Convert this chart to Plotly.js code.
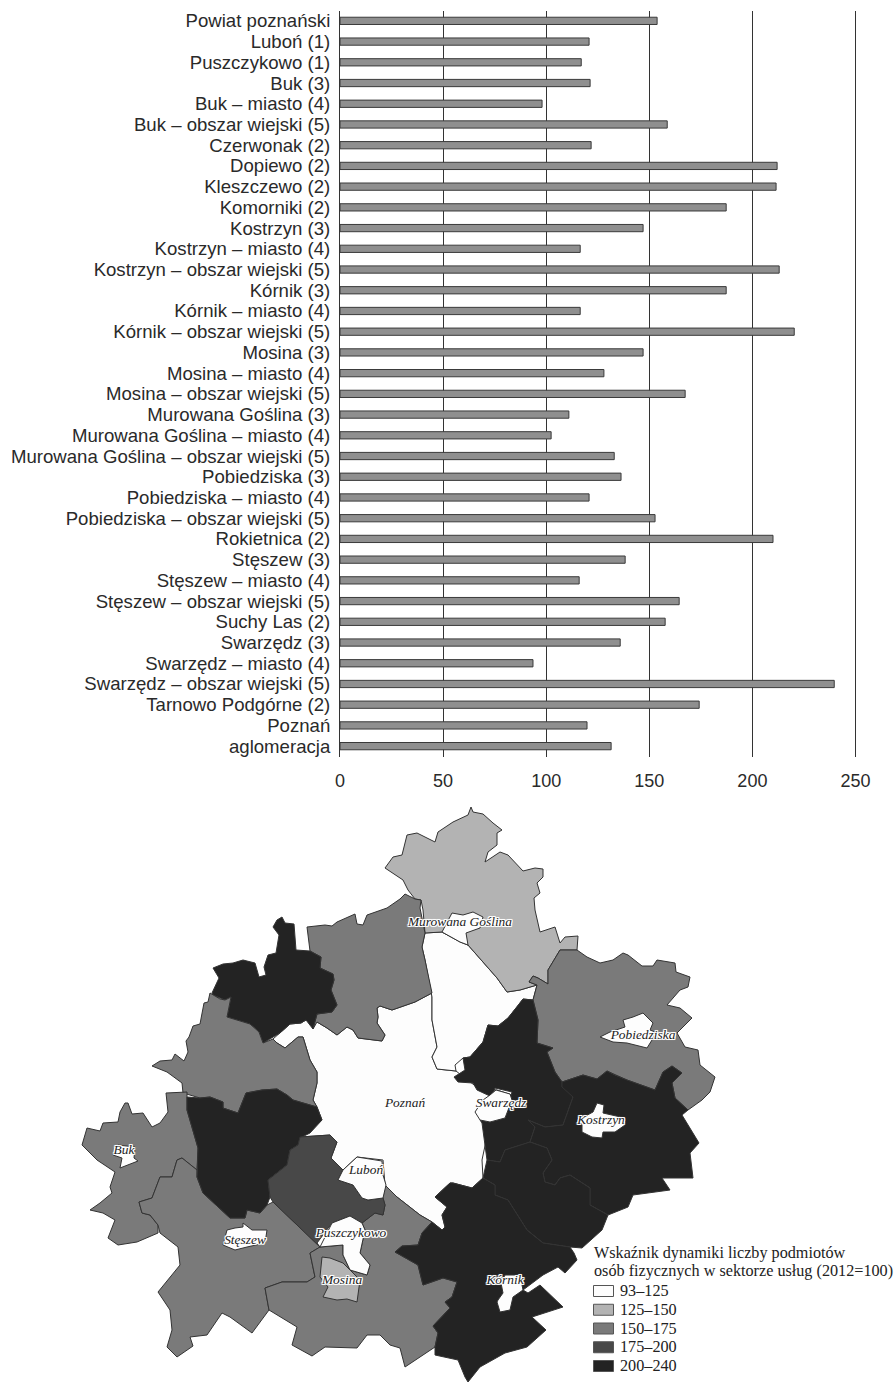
<!DOCTYPE html>
<html><head><meta charset="utf-8">
<script src="https://cdn.plot.ly/plotly-3.0.1.min.js"></script>
<style>html,body{margin:0;padding:0;background:#fff}#c{width:896px;height:1382px}</style>
</head><body><div id="c"></div>
<script>
// ---- bar chart data ----
const categories = ["Powiat poznański","Luboń (1)","Puszczykowo (1)","Buk (3)","Buk – miasto (4)","Buk – obszar wiejski (5)","Czerwonak (2)","Dopiewo (2)","Kleszczewo (2)","Komorniki (2)","Kostrzyn (3)","Kostrzyn – miasto (4)","Kostrzyn – obszar wiejski (5)","Kórnik (3)","Kórnik – miasto (4)","Kórnik – obszar wiejski (5)","Mosina (3)","Mosina – miasto (4)","Mosina – obszar wiejski (5)","Murowana Goślina (3)","Murowana Goślina – miasto (4)","Murowana Goślina – obszar wiejski (5)","Pobiedziska (3)","Pobiedziska – miasto (4)","Pobiedziska – obszar wiejski (5)","Rokietnica (2)","Stęszew (3)","Stęszew – miasto (4)","Stęszew – obszar wiejski (5)","Suchy Las (2)","Swarzędz (3)","Swarzędz – miasto (4)","Swarzędz – obszar wiejski (5)","Tarnowo Podgórne (2)","Poznań","aglomeracja"];
const values = [153.8,120.8,117,121.3,98,158.7,121.8,212,211.5,187.3,147,116.5,213,187.3,116.5,220.3,147,128,167.4,111,102.4,133,136.3,120.8,152.8,210,138.3,116,164.5,157.7,135.9,93.6,239.7,174.2,119.8,131.5];
const xTicks = [0,50,100,150,200,250];

// ---- legend data ----
const legendTitle = ["Wskaźnik dynamiki liczby podmiotów","osób fizycznych w sektorze usług (2012=100)"];
const classLabels = ["93–125","125–150","150–175","175–200","200–240"];
const classColors = ["#fdfdfd","#b3b3b3","#7a7a7a","#484848","#232323"];

// ---- map outlines, [x,y,x,y,...] in map units ----
const poznan = [273,1039,280,1033,290,1024,301,1023,306,1020,317,1022,327,1028,337,1035,347,1027,353,1030,358,1038,382,1041,385,1035,377,1023,378,1017,377,1008,380,1006,392,1010,415,1002,432,993,432,1020,437,1047,432,1057,437,1069,456,1071,478,1088,497,1090,512,1095,505,1118,490,1122,482,1160,483,1178,472,1188,453,1183,450,1183,435,1197,447,1207,442,1215,445,1227,442,1230,432,1222,420,1215,397,1197,385,1185,383,1160,357,1157,343,1170,331,1158,337,1142,330,1135,300,1137,322,1120,317,1107,313,1100,317,1083,317,1072,310,1060,303,1037,298,1037,285,1048,277,1043];
const czerwonak = [425,933,442,932,460,942,468,945,497,978,507,992,520,990,537,985,533,1000,523,999,517,1007,508,1018,498,1026,488,1025,483,1042,470,1057,463,1058,455,1065,456,1071,437,1069,432,1057,437,1047,432,1020,432,997,425,960,422,947];
const goslinaRural = [471,807,473,812,483,814,493,823,502,830,497,833,497,845,488,852,485,862,500,852,508,855,523,871,535,868,543,869,543,877,537,883,540,893,534,898,535,910,540,932,555,927,560,943,565,937,578,936,577,950,560,950,548,970,548,984,538,978,533,976,529,982,537,985,520,990,507,992,497,978,468,945,442,932,425,933,423,910,421,900,415,899,408,890,403,880,385,868,393,857,402,855,407,835,417,833,435,842,438,832,453,822,468,815];
const suchyLas = [307,927,325,925,332,926,337,922,355,914,357,924,363,925,367,915,387,908,400,899,405,894,415,899,421,900,420,908,425,933,422,947,425,960,432,993,415,1002,392,1010,380,1006,377,1008,378,1017,377,1023,385,1035,382,1041,358,1038,353,1030,347,1027,337,1035,327,1028,317,1022,313,1029,317,1014,332,1012,337,1005,331,990,334,980,333,974,320,968,321,957,310,951];
const rokietnica = [273,927,277,920,282,917,285,923,294,924,296,950,310,951,321,957,320,968,333,974,334,980,331,990,337,1005,332,1012,317,1014,313,1029,306,1020,301,1023,290,1024,280,1033,263,1043,259,1032,250,1024,227,1017,231,997,225,1000,220,998,213,995,212,993,219,978,213,968,223,964,233,963,243,960,255,963,259,977,266,975,264,967,268,955,276,953,279,935];
const tarnowo = [152,1066,160,1061,172,1060,175,1054,184,1061,188,1052,186,1041,189,1037,193,1026,200,1024,204,1003,208,1002,210,993,213,995,220,999,225,1000,231,997,227,1017,250,1024,259,1032,263,1043,273,1039,277,1043,285,1048,298,1037,303,1037,310,1060,317,1072,317,1083,313,1100,317,1107,303,1103,293,1100,287,1095,277,1089,262,1090,246,1093,238,1113,223,1108,223,1102,210,1097,200,1098,188,1095,183,1093,182,1083,167,1072];
const buk = [82,1145,87,1128,100,1131,103,1123,118,1122,120,1112,125,1103,128,1103,132,1114,143,1113,152,1127,160,1123,168,1112,166,1093,187,1092,187,1110,198,1148,197,1170,182,1158,177,1160,172,1177,160,1177,152,1198,139,1202,142,1213,150,1215,158,1225,158,1233,137,1242,118,1245,108,1238,115,1220,103,1213,90,1210,100,1203,112,1193,110,1187,115,1172,97,1160];
const dopiewo = [187,1097,200,1098,210,1097,223,1102,223,1108,238,1113,246,1093,262,1090,277,1089,287,1095,293,1100,303,1103,317,1107,322,1120,310,1133,300,1138,298,1145,290,1150,287,1165,268,1180,270,1197,267,1205,260,1213,247,1210,245,1218,230,1218,203,1193,197,1177,198,1148,187,1110];
const komorniki = [300,1137,330,1135,337,1142,331,1158,343,1170,338,1180,353,1185,362,1198,368,1200,383,1198,385,1205,383,1215,375,1213,362,1223,350,1216,332,1223,317,1243,320,1247,273,1202,270,1197,268,1180,287,1165,290,1150,298,1145];
const lubon = [338,1180,343,1170,357,1157,382,1161,383,1175,386,1185,383,1198,368,1200,362,1198,353,1185];
const puszczykowo = [320,1247,332,1223,350,1216,362,1223,365,1230,360,1253,370,1265,367,1275,350,1270,343,1255,343,1245];
const mosinaRural = [320,1247,310,1253,315,1277,307,1282,282,1282,265,1288,269,1310,297,1327,292,1345,312,1356,325,1347,357,1348,367,1335,380,1335,390,1345,400,1348,405,1367,435,1347,438,1333,433,1326,450,1308,445,1302,452,1297,457,1282,443,1278,423,1285,418,1265,395,1252,402,1246,418,1245,422,1233,432,1222,420,1215,397,1197,385,1185,383,1198,385,1205,383,1215,375,1213,362,1223,365,1230,360,1253,370,1265,367,1275,350,1270,343,1255,343,1245];
const mosinaCity = [322,1257,330,1258,343,1263,350,1270,360,1280,357,1302,347,1299,337,1300,323,1297,328,1287,320,1277];
const steszewRural = [139,1202,152,1198,160,1177,172,1177,177,1160,182,1158,197,1170,197,1177,203,1193,230,1218,245,1218,247,1210,260,1213,267,1205,273,1202,320,1247,310,1253,315,1277,307,1282,282,1282,265,1288,269,1310,252,1333,230,1317,222,1313,207,1335,190,1337,193,1346,177,1357,167,1347,172,1330,170,1310,158,1292,180,1265,178,1247,160,1233,158,1225,150,1215,142,1213];
const pobiedziskaRural = [560,950,577,950,587,957,600,963,613,960,623,953,628,955,642,966,653,966,657,960,675,963,676,972,690,977,688,987,680,990,667,1005,680,1008,692,1018,677,1033,685,1047,698,1050,700,1065,715,1077,710,1092,702,1100,688,1110,675,1098,672,1083,682,1073,672,1066,663,1072,655,1090,627,1080,615,1075,607,1071,597,1079,583,1075,562,1082,555,1072,547,1052,553,1048,537,1043,538,1020,533,1000,537,985,529,982,533,976,538,978,548,984,548,970];
const swarzedzRural = [523,999,533,1000,538,1020,537,1043,553,1048,547,1052,555,1072,562,1082,562,1087,577,1093,573,1097,563,1125,545,1127,528,1120,535,1127,530,1142,505,1150,500,1162,487,1160,482,1123,480,1120,490,1122,505,1118,512,1092,495,1088,492,1097,477,1090,473,1083,458,1082,454,1077,465,1070,463,1058,470,1057,483,1042,488,1025,498,1026,508,1018,517,1007];
const kostrzynRural = [562,1082,583,1075,597,1079,607,1071,615,1075,627,1080,655,1090,663,1072,672,1066,682,1073,672,1083,675,1098,688,1110,682,1115,699,1143,690,1153,693,1178,662,1178,670,1190,633,1195,628,1207,608,1215,590,1205,590,1188,570,1175,560,1178,555,1185,545,1182,543,1173,552,1160,547,1148,530,1142,535,1127,528,1120,545,1127,563,1125,573,1097,562,1087];
const kleszczewo = [487,1160,500,1162,505,1150,530,1142,547,1148,552,1160,543,1173,545,1182,555,1185,560,1178,570,1175,590,1188,590,1205,608,1215,602,1230,582,1248,570,1247,543,1243,527,1230,508,1200,495,1195,495,1185,483,1178];
const kornikRural = [483,1178,495,1185,495,1195,508,1200,527,1230,543,1243,570,1247,574,1253,577,1260,565,1273,558,1267,543,1275,523,1290,528,1293,540,1285,563,1307,532,1317,546,1330,527,1347,505,1353,480,1367,468,1382,465,1377,458,1360,435,1355,435,1347,438,1333,433,1326,450,1308,445,1302,452,1297,457,1282,443,1278,423,1285,418,1265,395,1252,402,1246,418,1245,422,1233,432,1222,442,1230,445,1227,442,1215,447,1207,435,1197,450,1183,453,1183,472,1188];
const goslinaCity = [442,932,452,913,463,915,473,912,483,917,480,928,466,933,468,945,460,942];
const pobiedziskaCity = [600,1037,610,1032,625,1027,623,1020,633,1017,643,1013,653,1023,650,1030,655,1032,652,1040,647,1048,627,1043,613,1042];
const swarzedzCity = [475,1112,483,1100,490,1095,496,1090,510,1094,512,1100,505,1118,490,1122,480,1120];
const kostrzynCity = [597,1103,604,1105,603,1113,625,1118,625,1125,615,1132,603,1132,602,1138,592,1137,582,1132,582,1118,593,1112];
const kornikCity = [498,1300,503,1293,501,1283,505,1275,520,1275,523,1290,513,1297,510,1310,500,1312,497,1302];
const steszewCity = [223,1245,227,1230,235,1228,243,1227,243,1223,252,1230,267,1230,265,1243,247,1247,235,1250];
const bukCity = [120,1168,122,1158,113,1155,118,1145,135,1147,134,1158,138,1161];

// draw order, class index
const regions = [
 [poznan,0],[czerwonak,0],[goslinaRural,1],[suchyLas,2],[rokietnica,4],[tarnowo,2],[buk,2],[steszewRural,2],[mosinaRural,2],[dopiewo,4],[komorniki,3],[lubon,0],[puszczykowo,0],[mosinaCity,1],
 [pobiedziskaRural,2],[swarzedzRural,4],[kostrzynRural,4],[kleszczewo,4],[kornikRural,4],
 [goslinaCity,0],[pobiedziskaCity,0],[swarzedzCity,0],[kostrzynCity,0],[kornikCity,0],[steszewCity,0],[bukCity,0]
];

// map labels
const placeNames = ["Murowana Goślina","Pobiedziska","Swarzędz","Kostrzyn","Buk","Luboń","Puszczykowo","Stęszew","Mosina","Kórnik"];
const placeX = [460,643,501,601,124,366,351,245,342,505];
const placeY = [923,1036,1104,1121,1151,1171,1234,1241,1281,1281];
const capitalName = ["Poznań"], capitalX = [405], capitalY = [1104];

const ink = "#2a2a2a";
const traces = [{
  type:"bar", orientation:"h", y:categories, x:values, xaxis:"x", yaxis:"y",
  marker:{color:"#8f8f8f", line:{color:"#3a3a3a", width:1}}, width:0.35, hoverinfo:"skip", cliponaxis:false
}];
regions.forEach(([pts,cls])=>{
  const xs=[],ys=[];
  for(let i=0;i<pts.length;i+=2){xs.push(pts[i]);ys.push(pts[i+1]);}
  xs.push(pts[0]);ys.push(pts[1]);
  traces.push({type:"scatter",mode:"lines",x:xs,y:ys,xaxis:"x2",yaxis:"y2",fill:"toself",fillcolor:classColors[cls],
    line:{color:"#333",width:1},hoverinfo:"skip",showlegend:false});
});
const halo="1px 0 0 #fff,-1px 0 0 #fff,0 1px 0 #fff,0 -1px 0 #fff,1px 1px 0 #fff,-1px -1px 0 #fff,1px -1px 0 #fff,-1px 1px 0 #fff,0 0 2px #fff";
traces.push({type:"scatter",mode:"text",x:placeX,y:placeY,text:placeNames,xaxis:"x2",yaxis:"y2",textposition:"middle center",
  textfont:{family:"Liberation Serif",style:"italic",size:13.4,color:"#222",shadow:halo},hoverinfo:"skip"});
traces.push({type:"scatter",mode:"text",x:capitalX,y:capitalY,text:capitalName,xaxis:"x2",yaxis:"y2",textposition:"middle center",
  textfont:{family:"Liberation Serif",style:"italic",size:13.4,color:"#222"},hoverinfo:"skip"});

// legend
const shapes=[], annotations=[];
const ann=(x,y,t)=>({x,y,text:t,xref:"x2",yref:"y2",xanchor:"left",yanchor:"middle",showarrow:false,align:"left",
  font:{family:"Liberation Serif",size:16.2,color:"#222"}});
annotations.push(ann(592,1252.5,legendTitle[0]));
annotations.push(ann(592,1271,legendTitle[1]));
classLabels.forEach((t,i)=>{
  const yc=1291+i*18.75;
  shapes.push({type:"rect",xref:"x2",yref:"y2",x0:593.5,x1:613.5,y0:yc-5.5,y1:yc+5.5,fillcolor:classColors[i],line:{color:"#555",width:1}});
  annotations.push(ann(617.5,yc,t));
});

const W=896,H=1382;
const layout={
  width:W,height:H,margin:{l:0,r:0,t:0,b:0},paper_bgcolor:"#fff",plot_bgcolor:"rgba(0,0,0,0)",showlegend:false,
  font:{family:"Liberation Sans",color:ink},
  xaxis:{domain:[340/W,859.6/W],range:[0,252],tickvals:xTicks,ticks:"",showline:false,zeroline:false,
    showgrid:true,gridcolor:"#333",gridwidth:1,anchor:"y",tickfont:{size:18,color:ink},ticklabelstandoff:11},
  yaxis:{domain:[1-756.5/H,1-10.5/H],type:"category",autorange:false,range:[35.5,-0.5],categoryorder:"array",categoryarray:categories,
    tickmode:"array",tickvals:categories,ticktext:categories,
    ticks:"",showgrid:false,zeroline:false,showline:true,linecolor:"#333",linewidth:1,anchor:"x",tickfont:{size:18.6,color:ink},ticklabelstandoff:5,automargin:false},
  xaxis2:{domain:[0,1],range:[0,W],visible:false,anchor:"y2",fixedrange:true},
  yaxis2:{domain:[0,1],range:[H,0],visible:false,anchor:"x2",fixedrange:true},
  shapes,annotations
};
Plotly.newPlot("c",traces,layout,{displayModeBar:false,staticPlot:true});
</script></body></html>
